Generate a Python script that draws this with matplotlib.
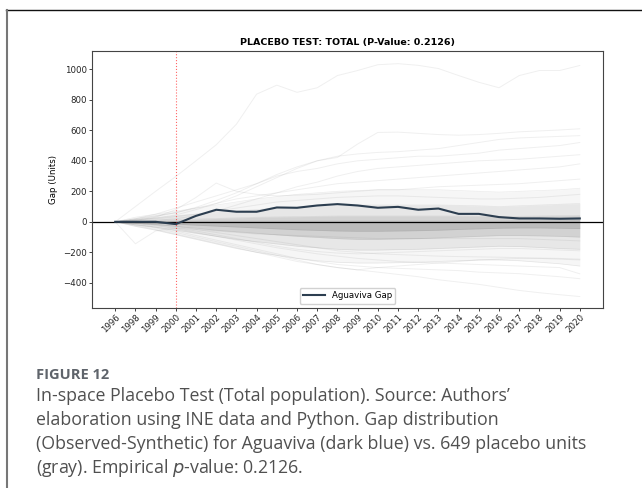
import matplotlib
matplotlib.use("Agg")
import matplotlib.pyplot as plt
from matplotlib.lines import Line2D

# Years on the x axis (1997 is not in the panel)
years = ["1996", "1998", "1999", "2000", "2001", "2002", "2003", "2004", "2005",
         "2006", "2007", "2008", "2009", "2010", "2011", "2012", "2013", "2014",
         "2015", "2016", "2017", "2018", "2019", "2020"]
treat_year = "2000"

# Treated unit gap (observed - synthetic)
aguaviva_gap = [0, 0, 0, -15, 39, 79, 66, 66, 94, 92, 107, 116, 107, 92, 98, 79,
                87, 52, 52, 31, 22, 22, 20, 22]

# Spread of the placebo gaps: nested envelopes, widest first
band_wide_hi = [0, 30, 50, 70, 90, 110, 130, 150, 165, 180, 190, 200, 205, 210,
                210, 210, 210, 205, 200, 195, 200, 205, 210, 220]
band_wide_lo = [0, -30, -55, -85, -115, -145, -175, -200, -220, -240, -255, -265,
                -270, -270, -268, -265, -260, -255, -250, -250, -255, -265, -275, -290]
band_outer_hi = [0, 15, 25, 40, 50, 60, 70, 80, 90, 95, 100, 105, 110, 110, 110,
                 110, 110, 108, 105, 100, 105, 110, 115, 120]
band_outer_lo = [0, -20, -35, -55, -75, -95, -115, -130, -145, -160, -170, -180,
                 -185, -185, -182, -180, -175, -170, -165, -160, -162, -168, -175, -180]
band_mid_hi = [0, 6, 10, 14, 18, 22, 26, 30, 32, 34, 36, 38, 38, 38, 38, 38, 38,
               38, 36, 34, 36, 38, 40, 42]
band_mid_lo = [0, -10, -18, -30, -42, -55, -65, -75, -85, -95, -102, -110, -115,
               -115, -112, -110, -105, -100, -95, -90, -90, -92, -95, -100]
band_core_hi = [0, 2, 3, 4, 5, 6, 6, 6, 6, 6, 6, 6, 6, 6, 6, 6, 6, 6, 6, 6, 8, 10,
                12, 14]
band_core_lo = [0, -4, -8, -15, -22, -28, -34, -40, -46, -52, -56, -60, -62, -62,
                -60, -58, -55, -50, -46, -42, -40, -40, -42, -44]

# Individual placebo units drawn on top of the bulk
placebo_top = [0, 100, 200, 297, 400, 505, 640, 837, 896, 849, 879, 959, 992, 1030,
               1037, 1026, 1005, 959, 915, 879, 959, 992, 992, 1025]
placebo_up_b = [0, 15, 35, 60, 95, 140, 190, 250, 310, 360, 400, 422, 510, 586,
                588, 580, 572, 568, 572, 580, 590, 596, 602, 610]
placebo_up_c = [0, 10, 25, 45, 80, 120, 170, 230, 290, 350, 400, 430, 445, 455,
                460, 470, 480, 500, 520, 540, 550, 555, 560, 565]
placebo_up_d = [0, 20, 50, 90, 130, 170, 210, 250, 300, 330, 350, 380, 400, 410,
                420, 430, 430, 440, 450, 470, 480, 490, 500, 520]
placebo_up_e = [0, 5, 10, 20, 40, 70, 110, 150, 190, 230, 260, 300, 330, 350, 360,
                370, 380, 390, 400, 405, 410, 420, 430, 440]
placebo_up_f = [0, 10, 30, 80, 160, 254, 200, 180, 170, 175, 180, 190, 200, 210,
                210, 220, 230, 235, 240, 245, 250, 260, 270, 280]
placebo_up_g = [0, 20, 40, 60, 90, 120, 150, 170, 190, 210, 230, 250, 260, 270,
                280, 290, 300, 310, 320, 330, 340, 350, 360, 380]
placebo_up_h = [0, 10, 20, 35, 50, 70, 90, 110, 130, 140, 150, 160, 165, 170, 170,
                165, 160, 155, 150, 150, 155, 160, 170, 180]
placebo_lo_a = [0, -20, -40, -70, -100, -130, -160, -190, -220, -250, -280, -300,
                -315, -330, -345, -360, -380, -395, -410, -430, -450, -465, -478, -490]
placebo_lo_b = [0, -15, -35, -60, -90, -120, -150, -180, -210, -240, -260, -280,
                -290, -300, -305, -310, -315, -320, -330, -335, -340, -350, -360, -373]
placebo_lo_c = [0, -144, -60, -40, -50, -60, -70, -80, -85, -90, -95, -100, -105,
                -110, -110, -110, -110, -110, -110, -110, -110, -115, -120, -125]
placebo_lo_d = [0, -25, -50, -80, -110, -140, -170, -200, -230, -260, -280, -300,
                -315, -300, -290, -280, -270, -260, -250, -245, -240, -240, -245, -250]
placebo_lo_e = [0, -10, -25, -45, -70, -95, -120, -145, -170, -190, -210, -225,
                -240, -250, -260, -265, -270, -275, -280, -285, -290, -295, -300, -341]
placebo_lo_f = [0, -5, -15, -30, -50, -70, -90, -110, -130, -150, -170, -190, -200,
                -210, -215, -220, -225, -228, -230, -232, -235, -238, -240, -245]
placebo_lo_g = [0, -8, -20, -40, -60, -85, -110, -135, -160, -180, -195, -205,
                -210, -205, -200, -195, -190, -185, -180, -175, -175, -180, -185, -190]

placebo_units = [placebo_top, placebo_up_b, placebo_up_c, placebo_up_d,
                 placebo_up_e, placebo_up_f, placebo_up_g, placebo_up_h,
                 placebo_lo_a, placebo_lo_b, placebo_lo_c, placebo_lo_d,
                 placebo_lo_e, placebo_lo_f, placebo_lo_g]

caption_head = "FIGURE 12"
caption_lines = [
    "In-space Placebo Test (Total population). Source: Authors\u2019",
    "elaboration using INE data and Python. Gap distribution",
    "(Observed-Synthetic) for Aguaviva (dark blue) vs. 649 placebo units",
    "(gray). Empirical $\\it{p}$-value: 0.2126.",
]

fig = plt.figure(figsize=(6.42, 4.88), dpi=100)
ax = fig.add_axes([0.1433, 0.3689, 0.796, 0.5266])

x = range(len(years))

# envelopes, layered so the centre gets darker
for lo, hi, a in [(band_wide_lo, band_wide_hi, 0.07),
                  (band_outer_lo, band_outer_hi, 0.12),
                  (band_mid_lo, band_mid_hi, 0.20),
                  (band_core_lo, band_core_hi, 0.28)]:
    ax.fill_between(x, lo, hi, color="gray", alpha=a, linewidth=0)
    ax.plot(x, lo, color="gray", alpha=0.15, linewidth=0.5)
    ax.plot(x, hi, color="gray", alpha=0.15, linewidth=0.5)

for line in placebo_units:
    ax.plot(x, line, color="gray", alpha=0.12, linewidth=0.7)

ax.axhline(0, color="black", linewidth=0.9)
ax.axvline(years.index(treat_year), color="red", linestyle=":", linewidth=0.8, alpha=0.6)
ax.plot(x, aguaviva_gap, color="#2c3e50", linewidth=1.5, label="Aguaviva Gap")

ax.set_ylim(-565, 1120)
ax.set_yticks(range(-400, 1001, 200))
ax.set_xticks(list(x))
ax.set_xticklabels(years, rotation=45, ha="right", rotation_mode="anchor")
ax.tick_params(labelsize=6.2, length=2, width=0.6, colors="#222222", pad=1.5)
for s in ax.spines.values():
    s.set_linewidth(0.8)
    s.set_color("#444444")
ax.set_ylabel("Gap (Units)", fontsize=6.2, labelpad=4)
ax.set_title("PLACEBO TEST: TOTAL (P-Value: 0.2126)", fontsize=6.8,
             fontweight="bold", pad=4)
ax.legend(loc="lower center", fontsize=6.2, handlelength=2.5, framealpha=0.9,
          edgecolor="#cccccc")

# frame around the figure block
fig.add_artist(Line2D([6 / 642, 1], [1 - 9.5 / 488] * 2, color="#111111",
                      linewidth=1.0, transform=fig.transFigure))
fig.add_artist(Line2D([7 / 642] * 2, [0, 1 - 9.5 / 488], color="#777777",
                      linewidth=1.5, transform=fig.transFigure))

fig.text(36 / 642, 1 - 375 / 488, caption_head, fontsize=10.5, fontweight="bold",
         color="#5f646b", family="Open Sans", va="center")
for i, line in enumerate(caption_lines):
    fig.text(36 / 642, 1 - (396 + 24 * i) / 488, line, fontsize=12.8,
             color="#505050", family="Open Sans", va="center")

fig.savefig("out.png", dpi=100)
